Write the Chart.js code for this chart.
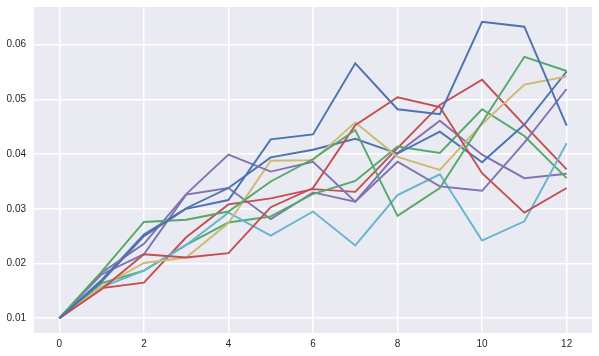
<!DOCTYPE html>
<html>
<head>
<meta charset="utf-8">
<script src="https://cdn.jsdelivr.net/npm/chart.js@4/dist/chart.umd.min.js"></script>
<style>
html,body{margin:0;padding:0;background:#fff;}
#wrap{width:599px;height:356px;}
</style>
</head>
<body>
<div id="wrap"><canvas id="c" width="599" height="356"></canvas></div>
<script>
const steps = [0,1,2,3,4,5,6,7,8,9,10,11,12];
const xTicks = [0,2,4,6,8,10,12];
const yTicks = [0.01,0.02,0.03,0.04,0.05,0.06];

const blueA   = [0.01,0.0167,0.0250,0.0300,0.0316,0.0427,0.0436,0.0566,0.0482,0.0473,0.0642,0.0633,0.0452];
const greenA  = [0.01,0.0185,0.0276,0.0280,0.0295,0.0350,0.0391,0.0444,0.0287,0.0338,0.0458,0.0578,0.0552];
const redA    = [0.01,0.0153,0.0217,0.0211,0.0219,0.0303,0.0338,0.0453,0.0504,0.0486,0.0365,0.0293,0.0338];
const purpleA = [0.01,0.0183,0.0236,0.0327,0.0399,0.0368,0.0386,0.0313,0.0386,0.0341,0.0333,0.0421,0.0519];
const yellow  = [0.01,0.0158,0.0201,0.0211,0.0274,0.0388,0.0389,0.0458,0.0395,0.0371,0.0455,0.0527,0.0542];
const cyan    = [0.01,0.0157,0.0187,0.0234,0.0293,0.0251,0.0295,0.0233,0.0325,0.0363,0.0242,0.0277,0.0420];
const blueB   = [0.01,0.0170,0.0253,0.0301,0.0338,0.0394,0.0408,0.0428,0.0401,0.0441,0.0385,0.0454,0.0551];
const greenB  = [0.01,0.0164,0.0187,0.0234,0.0275,0.0286,0.0327,0.0351,0.0414,0.0402,0.0482,0.0433,0.0356];
const redB    = [0.01,0.0155,0.0165,0.0248,0.0308,0.0319,0.0336,0.0331,0.0411,0.0490,0.0536,0.0453,0.0372];
const purpleB = [0.01,0.0180,0.0217,0.0326,0.0338,0.0281,0.0330,0.0313,0.0402,0.0461,0.0399,0.0356,0.0364];

const seriesList = [blueA, greenA, redA, purpleA, yellow, cyan, blueB, greenB, redB, purpleB];
const palette = ['#4C72B0','#55A868','#C44E52','#8172B2','#CCB974','#64B5CD'];

const datasets = seriesList.map((s, i) => ({
  label: 's' + i,
  data: steps.map((x, j) => ({x: x, y: s[j]})),
  borderColor: palette[i % palette.length],
  backgroundColor: palette[i % palette.length],
  borderWidth: 1.9,
  pointRadius: 0,
  tension: 0,
  fill: false
}));

const bgPlugin = {
  id: 'bg',
  beforeDraw(chart) {
    const a = chart.chartArea, ctx = chart.ctx;
    ctx.save();
    ctx.fillStyle = '#EAEAF2';
    ctx.fillRect(a.left, a.top, a.right - a.left, a.bottom - a.top);
    ctx.restore();
  }
};

new Chart(document.getElementById('c'), {
  type: 'line',
  data: { datasets },
  plugins: [bgPlugin],
  options: {
    responsive: false,
    devicePixelRatio: 1,
    animation: false,
    layout: { padding: { top: 0, right: 7, left: 0, bottom: 0 } },
    plugins: { legend: { display: false }, tooltip: { enabled: false } },
    scales: {
      x: {
        type: 'linear',
        min: -0.6, max: 12.6,
        afterBuildTicks: ax => { ax.ticks = xTicks.map(v => ({value: v})); },
        afterFit: ax => { ax.height = 23; },
        grid: { color: '#ffffff', lineWidth: 1.5, drawTicks: false },
        border: { display: false },
        ticks: { padding: 5, color: '#262626', font: { family: 'Liberation Sans, Arial, sans-serif', size: 10 }, maxRotation: 0, callback: v => String(v) }
      },
      y: {
        type: 'linear',
        min: 0.00729, max: 0.0669,
        afterBuildTicks: ax => { ax.ticks = yTicks.map(v => ({value: v})); },
        afterFit: ax => { ax.width = 34; ax.paddingTop = 7; ax.paddingBottom = 0; },
        grid: { color: '#ffffff', lineWidth: 1.5, drawTicks: false },
        border: { display: false },
        ticks: { padding: 8, color: '#262626', font: { family: 'Liberation Sans, Arial, sans-serif', size: 10 }, callback: v => v.toFixed(2) }
      }
    }
  }
});
</script>
</body>
</html>
